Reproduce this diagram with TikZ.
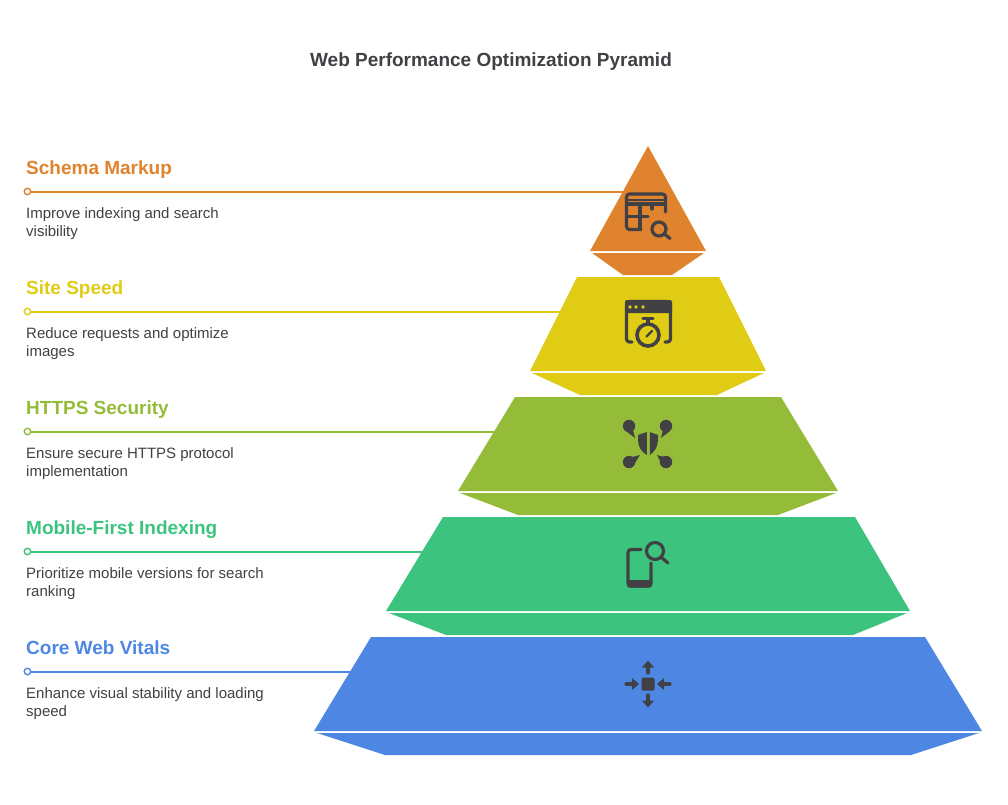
\documentclass[tikz,border=0pt]{standalone}
\usepackage{fontspec}
\setmainfont{Liberation Sans}
\definecolor{schemac}{HTML}{E0832F}
\definecolor{speedc}{HTML}{E0CC14}
\definecolor{httpsc}{HTML}{94BC38}
\definecolor{mobilec}{HTML}{3CC47F}
\definecolor{vitalsc}{HTML}{4E86E4}
\definecolor{inkc}{HTML}{414145}
\tikzset{
  titletext/.style={text=inkc,font=\fontsize{19}{23}\selectfont\bfseries},
  headtext/.style={anchor=base west,inner sep=0pt,font=\fontsize{19}{23}\selectfont\bfseries},
  desctext/.style={anchor=base west,inner sep=0pt,align=left,text=inkc,font=\fontsize{15}{18}\selectfont},
  tierdot/.style={circle,draw,fill=white,line width=1.4pt,minimum size=6.5pt,inner sep=0pt},
  tierline/.style={line width=2pt},
  iconline/.style={draw=inkc,line width=3.2pt,line cap=round,line join=round},
  iconfill/.style={fill=inkc}
}
\begin{document}
\begin{tikzpicture}[x=1pt,y=-1pt]
\useasboundingbox (0,0) rectangle (1008,804);
\node[titletext] (title) at (491,61.5) {Web Performance Optimization Pyramid};
% pyramid tiers
\fill[schemac] (648,146) -- (706,251) -- (590,251) -- cycle;
\fill[schemac] (592,253) -- (704,253) -- (672,275) -- (623,275) -- cycle;
\foreach \c/\ya/\xa/\xb/\xc/\xd/\xe/\xf/\xg/\xh in {
    speedc/277/577/719/530/766/532/764/580/717,
    httpsc/397/515/781/458/838/460/836/518/778,
    mobilec/517/443/855/386/910/389/907/446/853,
    vitalsc/637/371/925/314/982/317/979/385/911}{
  \fill[\c] (\xa,\ya) -- (\xb,\ya) -- (\xd,\ya+94) -- (\xc,\ya+94) -- cycle;
  \fill[\c] (\xe,\ya+96) -- (\xf,\ya+96) -- (\xh,\ya+118) -- (\xg,\ya+118) -- cycle;
}
% labels and leaders
\foreach \n/\tc/\yy/\xend/\head/\desc in {
    schema/schemac/168/623/Schema Markup/Improve indexing and search\\visibility,
    speed/speedc/288/560/Site Speed/Reduce requests and optimize\\images,
    https/httpsc/408/496/HTTPS Security/Ensure secure HTTPS protocol\\implementation,
    mobile/mobilec/528/424/Mobile-First Indexing/Prioritize mobile versions for search\\ranking,
    vitals/vitalsc/648/351/Core Web Vitals/Enhance visual stability and loading\\speed}{
  \node[headtext,text=\tc] (head\n) at (26,\yy+6) {\head};
  \node[desctext] (desc\n) at (26,\yy+68) {\desc};
  \coordinate (end\n) at (\xend,\yy+23.5);
  \node[tierdot,draw=\tc] (dot\n) at (27.5,\yy+23.5) {};
  \draw[tierline,draw=\tc] (dot\n) -- (end\n);
}
% table with magnifier
\draw[iconline,rounded corners=3pt] (641,229.5) -- (626.5,229.5) -- (626.5,194) -- (665.5,194) -- (665.5,212);
\fill[iconfill] (626,199) rectangle (666,205.5);
\fill[schemac] (628,200.5) rectangle (664,202);
\draw[iconline] (626.5,216.5) -- (648,216.5);
\draw[iconline] (640,205) -- (640,229);
\draw[iconline] (652,205) -- (652,209);
\draw[iconline] (659,229) circle (7);
\draw[iconline] (664.5,234) -- (670,238.5);
% window with stopwatch
\draw[iconline,rounded corners=3pt] (632,342) -- (626.5,342) -- (626.5,301.5) -- (670.5,301.5) -- (670.5,342) -- (665,342);
\fill[iconfill,rounded corners=2pt] (625,300) rectangle (672,313);
\foreach \x in {630,636,643}
  \fill[speedc] (\x,307) circle (1.8);
\draw[iconline,line width=3.6pt] (648,335) circle (11);
\draw[iconline] (648,324) -- (648,319);
\draw[iconline] (643,318.5) -- (653,318.5);
\draw[iconline,line width=2.2pt] (646.5,336.5) -- (652,331);
% shield with nodes
\fill[iconfill] (646.8,432) -- (646.8,455) .. controls (642,452) and (638,448) .. (638,438) -- (638,435) -- cycle;
\fill[iconfill] (649.8,432) -- (649.8,455) .. controls (654,452) and (658,448) .. (658,438) -- (658,435) -- cycle;
\foreach \x/\y/\tx/\ty/\ax/\ay/\bx/\by in {
    629/426/635/438/626/431/633/430,
    666/426/661/438/670/431/663/430,
    629/462/640/455/632/457/635/463,
    666/462/657/455/664/457/661/463}{
  \fill[iconfill] (\x,\y) circle (6.2);
  \fill[iconfill] (\ax,\ay) -- (\tx,\ty) -- (\bx,\by) -- cycle;
}
% phone with magnifier
\draw[iconline,rounded corners=3pt] (641,549.5) -- (628,549.5) -- (628,586) -- (651,586) -- (651,563);
\fill[iconfill,rounded corners=2pt] (627,580) rectangle (652,587.5);
\draw[iconline] (655,551) circle (8.5);
\draw[iconline] (661,557) -- (668,563);
% square with arrows
\fill[iconfill,rounded corners=1.5pt] (641.5,677.5) rectangle (654.5,690.5);
\draw[iconline] (626,684) -- (633,684);
\fill[iconfill] (639,684) -- (632,678) -- (632,690) -- cycle;
\draw[iconline] (670,684) -- (663,684);
\fill[iconfill] (657,684) -- (664,678) -- (664,690) -- cycle;
\draw[iconline] (648,673) -- (648,667);
\fill[iconfill] (648,660.5) -- (642,667.5) -- (654,667.5) -- cycle;
\draw[iconline] (648,695) -- (648,701);
\fill[iconfill] (648,707.5) -- (642,700.5) -- (654,700.5) -- cycle;
\end{tikzpicture}
\end{document}
